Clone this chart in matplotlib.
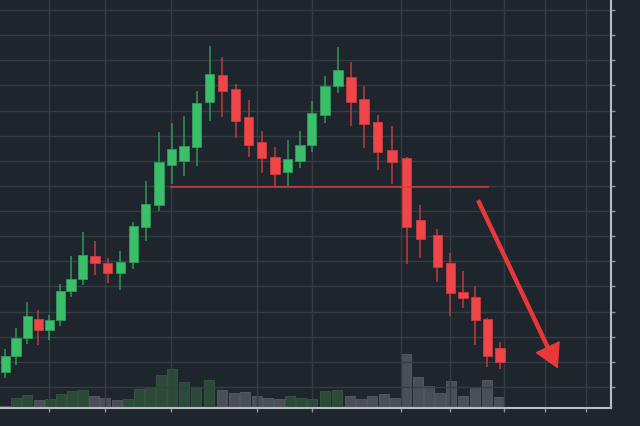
import numpy as np
import matplotlib.pyplot as plt

# candle positions and OHLC values
t = np.array([5.3, 16, 27.3, 38.3, 49.3, 60.3, 71, 82.7, 95, 107.7,
              120.3, 133.3, 145.7, 159, 171.7, 184, 196.7, 209.7, 222.3, 235.7,
              248.7, 261.7, 275, 287.7, 300, 311.7, 325, 338, 351, 364,
              377.7, 392, 406.7, 420.3, 437.3, 450.3, 463, 475.3, 487.3, 500])
o = np.array([15.8, 22.4, 29.4, 37.0, 32.7, 36.7, 48.1, 53.0, 62.2, 59.2,
              55.4, 59.9, 73.5, 82.5, 98.3, 100.0, 105.5, 123.3, 134.3, 128.6,
              117.3, 107.6, 101.4, 95.7, 99.9, 106.3, 118.2, 129.8, 133.2, 124.6,
              115.6, 104.3, 101.0, 76.4, 70.5, 59.2, 47.8, 45.7, 37.0, 25.5])
c = np.array([22.4, 29.5, 38.1, 32.7, 36.7, 48.2, 53.0, 62.5, 59.3, 55.2,
              59.9, 74.2, 82.8, 99.6, 104.6, 106.0, 123.1, 134.7, 127.7, 116.0,
              106.4, 101.0, 94.9, 100.6, 106.3, 118.9, 129.8, 136.2, 123.3, 114.6,
              103.6, 99.6, 73.8, 69.0, 57.9, 47.5, 45.3, 36.7, 22.4, 19.8])
h = np.array([25.1, 33.5, 43.9, 40.6, 38.8, 51.0, 62.2, 71.5, 68.0, 61.3,
              64.2, 75.8, 92.1, 111.6, 114.9, 117.7, 127.9, 145.8, 141.2, 130.6,
              124.2, 111.7, 105.4, 108.3, 111.7, 123.7, 133.7, 145.2, 139.4, 129.6,
              118.2, 113.7, 101.5, 82.4, 72.9, 63.2, 56.3, 50.2, 37.3, 28.0])
l = np.array([13.6, 18.9, 27.1, 26.8, 28.7, 34.4, 45.7, 50.6, 54.7, 51.4,
              48.7, 57.0, 68.1, 80.1, 90.8, 93.8, 98.0, 115.7, 117.3, 109.1,
              101.4, 95.0, 89.7, 90.1, 97.0, 103.4, 114.9, 126.9, 114.0, 105.1,
              96.3, 90.8, 58.9, 61.2, 51.7, 38.4, 41.3, 26.8, 18.1, 17.2])

# volume bars (own positions), 1 = green, 0 = grey
vol_t = np.array([5, 16, 27, 38.5, 49.5, 61, 72, 83, 94, 105, 116.5,
                  128, 139, 150, 161, 172, 184, 196, 209, 221.5, 234, 245,
                  256.5, 268, 279, 290, 301, 312, 325, 337, 350, 361, 372,
                  384, 395, 406, 418, 429, 440, 451, 463, 475, 487, 499])
vol = np.array([1.7, 10, 13, 8, 8.7, 14.3, 16.7, 18, 12.3, 10, 8,
                9.3, 18.7, 21, 33, 39, 26.3, 21, 28, 18, 15.3, 15.7,
                12, 9.7, 9, 12.3, 10.3, 8.7, 16.7, 17.7, 11.7, 9, 12,
                14, 10, 53.7, 30.7, 21.7, 15, 26.7, 12.3, 20.7, 28, 10.7])
vol_up = [0, 1, 1, 0, 1, 1, 1, 1, 0, 0, 0,
          1, 1, 1, 1, 1, 1, 1, 1, 0, 0, 0,
          0, 0, 0, 1, 1, 1, 1, 1, 0, 0, 0,
          0, 0, 0, 0, 0, 0, 0, 0, 0, 0, 0]

neck_y = 89.6
neck_x = (171, 488)
arrow_from = (478.3, 84.1)
arrow_to = (557.3, 17.8)

grid_x = [49, 105, 171, 257, 312, 401, 450, 504, 545, 586]
grid_y = np.arange(10, 161, 10)

bg = "#1f252d"
green, red = "#3bbf6a", "#f0464a"

fig = plt.figure(figsize=(6.4, 4.27), dpi=100, facecolor=bg)
ax = fig.add_axes([0, 18 / 427, 611 / 640, 409 / 427])
ax.set_facecolor(bg)

# volume underneath on its own scale
axv = ax.twinx()
axv.set_zorder(0)
ax.set_zorder(1)
ax.patch.set_visible(False)
axv.set_facecolor(bg)
vcol = ["#2c4a38" if u else "#4a4f57" for u in vol_up]
vedge = ["#36583f" if u else "#575c64" for u in vol_up]
axv.bar(vol_t, vol, width=10, color=vcol, edgecolor=vedge, linewidth=0.6)
axv.set_ylim(0, 409)
axv.set_yticks([])
for s in axv.spines.values():
    s.set_visible(False)

# candles
up = c >= o
col = np.where(up, green, red)
wick = np.where(up, "#2f9a55", "#c23b3e")
ax.vlines(t, l, h, colors=wick, linewidth=1.1, zorder=2)
ax.bar(t, np.abs(c - o), bottom=np.minimum(o, c), width=9.5,
       color=col, edgecolor=np.where(up, "#2e9d56", "#c93c3f"),
       linewidth=0.6, zorder=3)

# neckline and breakdown arrow
ax.plot(neck_x, [neck_y, neck_y], color="#d83a3a", linewidth=1.1, zorder=4)
ax.annotate("", xy=arrow_to, xytext=arrow_from,
            arrowprops=dict(arrowstyle="simple,head_length=1.6,head_width=1.8,tail_width=0.22",
                            color="#e8383a", shrinkA=0, shrinkB=0), zorder=5)

ax.set_xlim(0, 611)
ax.set_ylim(1.644, 164.38)
ax.set_xticks(grid_x)
ax.set_yticks(grid_y)
ax.grid(True, color="#343c46", linewidth=1.0)
ax.set_axisbelow(True)
ax.yaxis.tick_right()
ax.tick_params(axis="both", direction="out", length=3, width=1,
               colors="#8d939b", labelbottom=False, labelright=False)
ax.spines["left"].set_visible(False)
ax.spines["top"].set_visible(False)
for s in ("right", "bottom"):
    ax.spines[s].set_color("#b9bdc3")
    ax.spines[s].set_linewidth(1.5)

plt.savefig("out.png", dpi=100, facecolor=bg)
